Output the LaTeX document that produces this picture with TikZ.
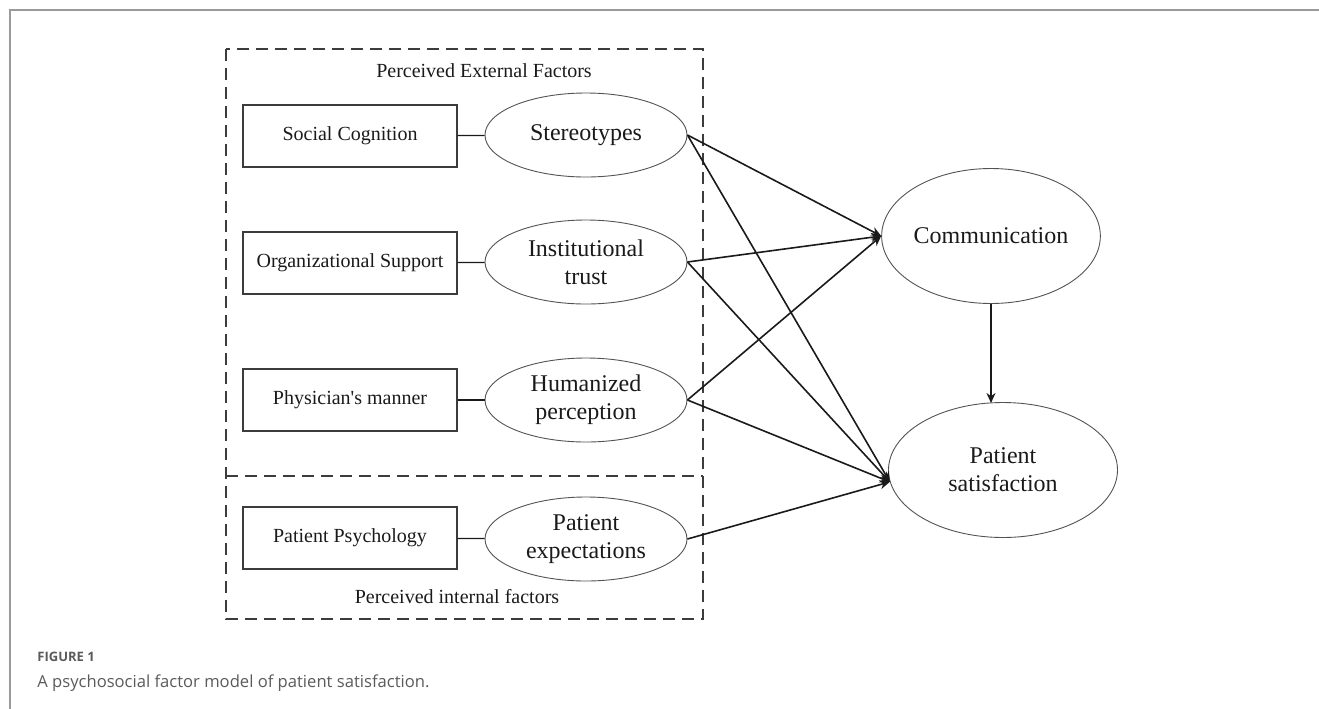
\documentclass[tikz,border=0pt]{standalone}
\usepackage{fontspec}
\setmainfont{Liberation Serif}
\newfontfamily\capfont{Open Sans}
\usetikzlibrary{arrows.meta,shapes.geometric}
\definecolor{framegray}{HTML}{9A9A9A}
\definecolor{capgray}{HTML}{5A5A5A}
\definecolor{ink}{HTML}{1A1A1A}
\tikzset{
  factorbox/.style={draw=ink!85, line width=0.6pt, minimum width=107pt, minimum height=31pt, inner sep=0pt, font=\fontsize{10}{11}\selectfont, text=ink},
  latent/.style={ellipse, draw=ink!75, line width=0.45pt, minimum width=101pt, minimum height=42pt, inner sep=0pt, align=center, font=\fontsize{12}{14}\selectfont, text=ink},
  outcome/.style={ellipse, draw=ink!75, line width=0.45pt, inner sep=0pt, align=center, font=\fontsize{12}{14}\selectfont, text=ink},
  link/.style={draw=ink, line width=0.6pt},
  path/.style={draw=ink, line width=0.8pt, -{Stealth[length=5pt,width=4.5pt]}},
  group/.style={draw=ink!85, line width=0.9pt, dash pattern=on 6pt off 3.5pt},
  grouplabel/.style={font=\fontsize{10}{11}\selectfont, text=ink}
}
\begin{document}
\begin{tikzpicture}[x=0.5pt,y=-0.5pt]
\useasboundingbox (0,0) rectangle (1319,708);
% outer frame
\draw[framegray, line width=0.8pt] (10,712) -- (10,10) -- (1325,10);
% groups
\draw[group] (226,49) rectangle (703,619);
\draw[group] (226,476) -- (703,476);
\node[grouplabel] (extlab) at (484,71) {Perceived External Factors};
\node[grouplabel] (intlab) at (457,597) {Perceived internal factors};
% boxes
\node[factorbox] (sc) at (350,136) {Social Cognition};
\node[factorbox] (os) at (350,263) {Organizational Support};
\node[factorbox] (pm) at (350,400) {Physician\textquotesingle s manner};
\node[factorbox] (pp) at (350,538) {Patient Psychology};
% latent ellipses
\node[latent] (st) at (586,135) {Stereotypes};
\node[latent] (it) at (586,262) {Institutional\\trust};
\node[latent] (hp) at (586,400) {Humanized\\perception};
\node[latent] (pe) at (586,539) {Patient\\expectations};
% outcomes
\node[outcome, minimum width=102pt, minimum height=67.5pt] (com) at (991,236) {Communication};
\node[outcome, minimum width=114.5pt, minimum height=67.5pt] (ps) at (1003,470) {Patient\\satisfaction};
\coordinate (psin) at (ps.186);
\coordinate (pstop) at (991,403);
% links
\draw[link] (sc) -- (st);
\draw[link] (os) -- (it);
\draw[link] (pm) -- (hp);
\draw[link] (pp) -- (pe);
% paths
\draw[path] (st.east) -- (com.west);
\draw[path] (st.east) -- (psin);
\draw[path] (it.east) -- (com.west);
\draw[path] (it.east) -- (psin);
\draw[path] (hp.east) -- (com.west);
\draw[path] (hp.east) -- (psin);
\draw[path] (pe.east) -- (psin);
\draw[path] (com.south) -- (pstop);
% caption
\node[anchor=base west, inner sep=0pt, font=\capfont\bfseries\fontsize{6.5}{8}\selectfont, text=capgray] (fig) at (37,661) {FIGURE 1};
\node[anchor=base west, inner sep=0pt, font=\capfont\fontsize{8.3}{10}\selectfont, text=capgray] (cap) at (37,687) {A psychosocial factor model of patient satisfaction.};
\end{tikzpicture}
\end{document}
